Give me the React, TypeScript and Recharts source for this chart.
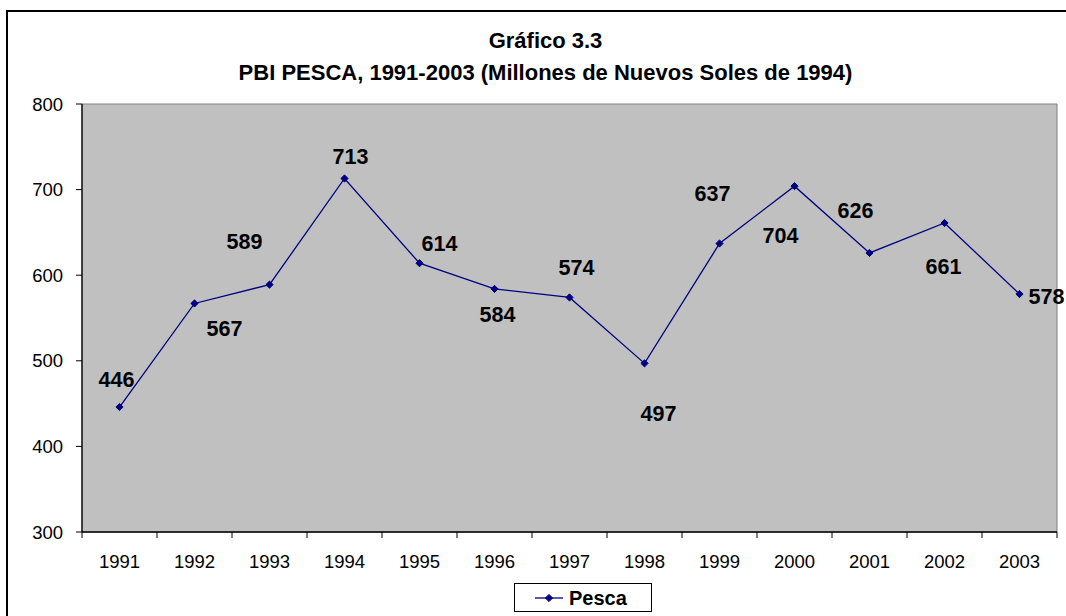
import React from "react";
import {
  LineChart,
  Line,
  XAxis,
  YAxis,
  Legend,
  LabelList,
  ReferenceArea,
} from "recharts";

const years = ["1991", "1992", "1993", "1994", "1995", "1996", "1997", "1998", "1999", "2000", "2001", "2002", "2003"];
const pesca = [446, 567, 589, 713, 614, 584, 574, 497, 637, 704, 626, 661, 578];
const yTicks = [300, 400, 500, 600, 700, 800];

const titleLines = ["Gráfico 3.3", "PBI PESCA, 1991-2003 (Millones de Nuevos Soles de 1994)"];
const seriesName = "Pesca";

// where each data label sits relative to its point (Excel had them hand placed)
const LABEL_OFFSETS: [number, number][] = [
  [-3, -28], [30, 25], [-25, -43], [6, -22], [20, -20], [3, 25], [7, -30],
  [14, 50], [-7, -50], [-14, 49], [-14, -43], [-1, 43], [27, 2],
];

const FONT = '"Liberation Sans", Arial, sans-serif';
const NAVY = "#000080";
const PLOT_BG = "#C0C0C0";

const data = years.map((year, i) => ({ year, pesca: pesca[i] }));

function Diamond({ cx, cy, r = 3.6 }: { cx: number; cy: number; r?: number }) {
  return (
    <polygon
      points={`${cx},${cy - r} ${cx + r},${cy} ${cx},${cy + r} ${cx - r},${cy}`}
      fill={NAVY}
      stroke={NAVY}
      strokeWidth={1}
    />
  );
}

function XTick(props: any) {
  const { x, y, payload, index, width, visibleTicksCount } = props;
  const half = width / visibleTicksCount / 2;
  const isLast = index === visibleTicksCount - 1;
  return (
    <g>
      <line x1={x - half} y1={y} x2={x - half} y2={y + 6} stroke="#000" strokeWidth={1} />
      {isLast && <line x1={x + half} y1={y} x2={x + half} y2={y + 6} stroke="#000" strokeWidth={1} />}
      <text x={x} y={y + 36} textAnchor="middle" fontFamily={FONT} fontSize={18.5} fill="#000">
        {payload.value}
      </text>
    </g>
  );
}

function ValueLabel(props: any) {
  const { x, y, value, index } = props;
  const [dx, dy] = LABEL_OFFSETS[index] ?? [0, -20];
  return (
    <text
      x={x + dx}
      y={y + dy}
      dy="0.36em"
      textAnchor="middle"
      fontFamily={FONT}
      fontWeight="bold"
      fontSize={21.5}
      fill="#000"
    >
      {value}
    </text>
  );
}

function LegendBox() {
  return (
    <div
      style={{
        boxSizing: "border-box",
        width: 138,
        height: 29,
        border: "1.5px solid #000",
        background: "#fff",
        display: "flex",
        alignItems: "center",
        paddingLeft: 20,
        fontFamily: FONT,
      }}
    >
      <svg width={28} height={12} style={{ display: "block" }}>
        <line x1={0} y1={6} x2={28} y2={6} stroke={NAVY} strokeWidth={1.3} />
        <Diamond cx={14} cy={6} />
      </svg>
      <span style={{ marginLeft: 6, fontWeight: "bold", fontSize: 20, lineHeight: "20px", color: "#000" }}>
        {seriesName}
      </span>
    </div>
  );
}

export default function App() {
  return (
    <div
      style={{
        position: "absolute",
        left: 0,
        top: 0,
        width: 1066,
        height: 616,
        overflow: "hidden",
        background: "#fff",
      }}
    >
      <div
        style={{
          position: "absolute",
          left: 6,
          top: 10,
          width: 1079,
          height: 640,
          border: "2px solid #000",
          boxSizing: "border-box",
        }}
      >
        <div
          style={{
            position: "absolute",
            left: 0,
            right: 0,
            top: 13,
            textAlign: "center",
            fontFamily: FONT,
            fontWeight: "bold",
            fontSize: 22,
            lineHeight: "32px",
            color: "#000",
          }}
        >
          {titleLines.map((t) => (
            <div key={t}>{t}</div>
          ))}
        </div>
      </div>
      <div style={{ position: "absolute", left: 0, top: 0 }}>
        <LineChart
          width={1066}
          height={616}
          data={data}
          margin={{ top: 104, right: 9, left: 0, bottom: 25 }}
        >
          <ReferenceArea y1={300} y2={800} fill={PLOT_BG} fillOpacity={1} stroke="#808080" strokeWidth={1} />
          <XAxis
            dataKey="year"
            scale="band"
            height={30}
            tickSize={0}
            tickMargin={0}
            tickLine={false}
            axisLine={{ stroke: "#000", strokeWidth: 1.3 }}
            tick={<XTick />}
            interval={0}
          />
          <YAxis
            width={82}
            domain={[300, 800]}
            ticks={yTicks}
            tickSize={6}
            tickMargin={13}
            axisLine={{ stroke: "#000", strokeWidth: 1.3 }}
            tickLine={{ stroke: "#000" }}
            tick={{ fill: "#000", fontSize: 18.5, fontFamily: FONT }}
            allowDataOverflow
          />
          <Legend
            verticalAlign="bottom"
            content={() => <LegendBox />}
            wrapperStyle={{ left: 514, bottom: 4, width: "auto" }}
          />
          <Line
            type="linear"
            dataKey="pesca"
            name={seriesName}
            stroke={NAVY}
            strokeWidth={1.3}
            dot={(p: any) => <Diamond key={p.index} cx={p.cx} cy={p.cy} />}
            activeDot={false}
            isAnimationActive={false}
          >
            <LabelList dataKey="pesca" content={<ValueLabel />} />
          </Line>
        </LineChart>
      </div>
    </div>
  );
}
